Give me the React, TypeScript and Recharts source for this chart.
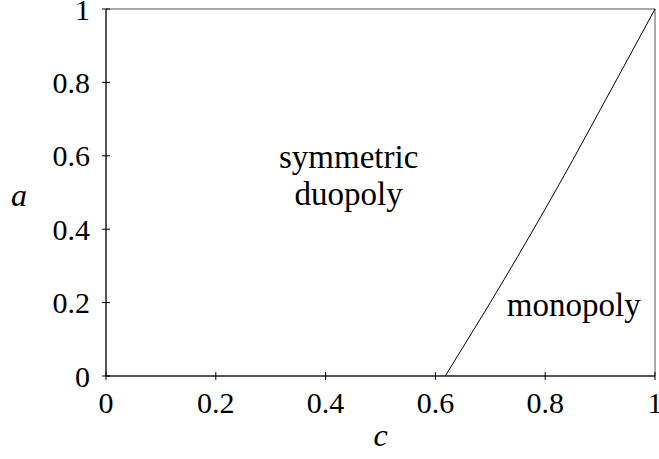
import React from 'react';
import { LineChart, Line, XAxis, YAxis, ReferenceArea, ReferenceDot } from 'recharts';

// boundary between symmetric duopoly and monopoly
const cValues = [0.618, 0.65, 0.7, 0.75, 0.8, 0.85, 0.9, 0.95, 1.0];
const aValues = [0, 0.078, 0.2, 0.326, 0.455, 0.588, 0.725, 0.862, 1.0];
const xTicks = [0, 0.2, 0.4, 0.6, 0.8, 1];
const yTicks = [0, 0.2, 0.4, 0.6, 0.8, 1];

const FONT = 'Liberation Serif, Times New Roman, serif';
const TICK_SIZE = 4;
const TICK_MARGIN = 12;

const data = cValues.map((c, i) => ({ c, a: aValues[i] }));

const txt = (size: number, italic = false) => ({
  fill: '#000',
  fontSize: size,
  fontFamily: FONT,
  fontStyle: italic ? 'italic' : 'normal',
});

// tick marks cross the axis line, so draw them with the label
const XTick = (props: any) => {
  const { x, y, payload } = props;
  const axisY = y - TICK_MARGIN - TICK_SIZE;
  return (
    <g>
      <line x1={x} x2={x} y1={axisY - 4} y2={axisY + 4} stroke="#000" />
      <text x={x} y={y} dy="0.71em" textAnchor="middle" {...txt(30)}>{String(payload.value)}</text>
    </g>
  );
};

const YTick = (props: any) => {
  const { x, y, payload } = props;
  const axisX = x + TICK_MARGIN + TICK_SIZE;
  return (
    <g>
      <line x1={axisX - 4} x2={axisX + 4} y1={y} y2={y} stroke="#000" />
      <text x={x} y={y} dy="0.355em" textAnchor="end" {...txt(30)}>{String(payload.value)}</text>
    </g>
  );
};

export default function App() {
  return (
    <div style={{ position: 'absolute', left: 0, top: 0, background: '#fff', fontFamily: FONT }}>
      <LineChart width={659} height={459} data={data} margin={{ top: 9, right: 4, bottom: 0, left: 0 }}>
        <ReferenceArea x1={0} x2={1} y1={0} y2={1} fill="none" stroke="#555" strokeWidth={1} />
        <XAxis
          type="number"
          dataKey="c"
          domain={[0, 1]}
          ticks={xTicks}
          height={83}
          tickSize={TICK_SIZE}
          tickMargin={TICK_MARGIN}
          tickLine={false}
          stroke="#000"
          tick={<XTick />}
          label={{ value: 'c', position: 'insideBottom', offset: 13, ...txt(32, true) }}
        />
        <YAxis
          type="number"
          dataKey="a"
          domain={[0, 1]}
          ticks={yTicks}
          width={106}
          tickSize={TICK_SIZE}
          tickMargin={TICK_MARGIN}
          tickLine={false}
          stroke="#000"
          tick={<YTick />}
          label={{ value: 'a', position: 'insideLeft', offset: 11, dy: 2, ...txt(32, true) }}
        />
        <Line type="monotone" dataKey="a" stroke="#000" strokeWidth={1} dot={false} isAnimationActive={false} />
        <ReferenceDot x={0.442} y={0.598} r={0} fill="none" stroke="none"
          label={{ value: 'symmetric', position: 'center', ...txt(33) }} />
        <ReferenceDot x={0.442} y={0.498} r={0} fill="none" stroke="none"
          label={{ value: 'duopoly', position: 'center', ...txt(33) }} />
        <ReferenceDot x={0.852} y={0.196} r={0} fill="none" stroke="none"
          label={{ value: 'monopoly', position: 'center', ...txt(33) }} />
      </LineChart>
    </div>
  );
}
